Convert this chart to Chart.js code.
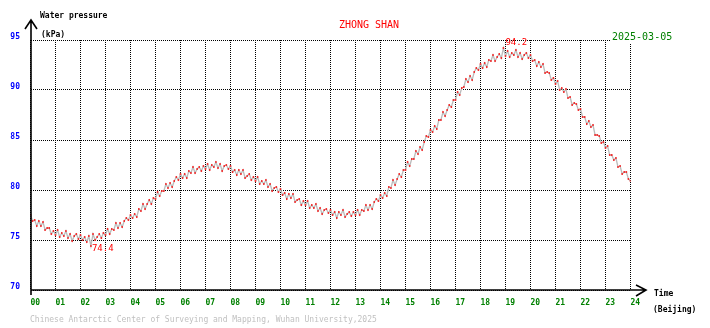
<!DOCTYPE html>
<html lang="en">
<head>
    <meta charset="UTF-8">
    <title>ZHONG SHAN Water pressure</title>
    <script src="https://cdn.jsdelivr.net/npm/chart.js"></script>
    <style>
        body {
            margin: 0;
            background: white;
        }
        canvas {
            display: block;
        }
    </style>
</head>
<body>
    <canvas id="pressureChart" width="710" height="328"></canvas>

    <script>
        // labels
        const hourLabels = ['00','01','02','03','04','05','06','07','08','09','10','11','12',
                            '13','14','15','16','17','18','19','20','21','22','23','24'];
        const yTicks = [70, 75, 80, 85, 90, 95];
        const station = 'ZHONG SHAN';
        const day = '2025-03-05';

        // water pressure (kPa), one value every 5 minutes, one row per hour
        const pressure = [
            77.5, 76.9, 77.0, 76.4, 76.9, 76.4, 76.8, 76.0, 76.2, 76.2, 75.6, 75.9,
            75.5, 76.0, 75.3, 75.7, 75.4, 75.9, 75.2, 75.6, 74.9, 75.4, 75.6, 75.1,
            75.5, 75.0, 75.3, 74.8, 75.4, 74.4, 75.6, 75.0, 75.3, 75.6, 75.2, 75.7,
            75.5, 76.1, 75.6, 76.1, 76.0, 76.7, 76.2, 76.7, 76.3, 76.9, 77.2, 77.0,
            77.5, 77.2, 77.6, 77.3, 78.1, 77.9, 78.6, 78.1, 78.6, 79.0, 78.6, 79.2,
            79.1, 79.8, 79.4, 79.9, 79.9, 80.6, 80.2, 80.7, 80.3, 80.9, 81.3, 81.0,
            81.6, 81.2, 81.6, 81.2, 81.9, 81.7, 82.3, 81.7, 82.1, 82.3, 81.9, 82.4,
            82.1, 82.6, 82.0, 82.5, 82.3, 82.8, 82.2, 82.6, 81.9, 82.4, 82.5, 82.1,
            82.4, 81.8, 82.0, 81.5, 82.0, 81.6, 82.0, 81.2, 81.4, 81.6, 81.0, 81.3,
            80.9, 81.3, 80.6, 80.9, 80.6, 81.0, 80.3, 80.6, 79.9, 80.2, 80.3, 79.8,
            80.1, 79.5, 79.7, 79.1, 79.6, 79.2, 79.6, 78.8, 79.0, 79.1, 78.5, 78.9,
            78.5, 78.9, 78.2, 78.5, 78.2, 78.6, 77.9, 78.2, 77.6, 78.0, 78.1, 77.7,
            78.0, 77.5, 77.8, 77.2, 77.8, 77.5, 78.0, 77.3, 77.6, 77.8, 77.4, 77.8,
            77.5, 78.0, 77.5, 78.0, 77.9, 78.5, 78.0, 78.5, 78.1, 78.8, 79.1, 78.9,
            79.5, 79.2, 79.7, 79.4, 80.3, 80.2, 81.0, 80.5, 81.1, 81.6, 81.3, 82.0,
            82.0, 82.8, 82.4, 83.1, 83.1, 83.9, 83.6, 84.3, 84.0, 84.8, 85.4, 85.3,
            86.0, 85.8, 86.4, 86.1, 87.0, 87.0, 87.8, 87.4, 88.0, 88.5, 88.3, 89.0,
            89.0, 89.8, 89.5, 90.2, 90.3, 91.1, 90.8, 91.4, 91.0, 91.8, 92.2, 92.0,
            92.6, 92.2, 92.7, 92.3, 93.0, 92.9, 93.5, 92.9, 93.3, 93.6, 93.2, 94.2,
            93.4, 93.9, 93.3, 93.7, 93.5, 94.0, 93.3, 93.7, 93.1, 93.5, 93.7, 93.2,
            93.5, 92.9, 93.0, 92.4, 92.8, 92.3, 92.6, 91.7, 91.8, 91.7, 91.0, 91.2,
            90.6, 90.9, 90.0, 90.2, 89.8, 90.1, 89.2, 89.3, 88.5, 88.7, 88.6, 88.0,
            88.1, 87.3, 87.3, 86.6, 86.9, 86.3, 86.5, 85.5, 85.5, 85.4, 84.7, 84.8,
            84.2, 84.4, 83.5, 83.5, 83.0, 83.2, 82.3, 82.4, 81.6, 81.8, 81.8, 81.1,
            80.9
        ];

        const mono = '"DejaVu Sans Mono", monospace';

        // axes, arrows, tick labels, titles, min/max marks
        const decor = {
            id: 'decor',
            afterDraw(chart) {
                const ctx = chart.ctx;
                const xs = chart.scales.x;
                const ys = chart.scales.y;
                const a = chart.chartArea;
                const x0 = Math.round(a.left);
                const y0 = Math.round(a.bottom);

                ctx.save();
                ctx.strokeStyle = 'black';
                ctx.lineWidth = 1.6;
                ctx.beginPath();
                ctx.moveTo(x0, 20); ctx.lineTo(x0, y0 + 5);
                ctx.moveTo(x0 - 6, 29); ctx.lineTo(x0, 20); ctx.lineTo(x0 + 6, 29);
                ctx.moveTo(x0, y0); ctx.lineTo(646, y0);
                ctx.moveTo(636, y0 - 5); ctx.lineTo(646, y0); ctx.lineTo(636, y0 + 6);
                ctx.stroke();

                ctx.textBaseline = 'middle';

                // y tick labels
                ctx.font = 'bold 8px ' + mono;
                ctx.fillStyle = '#0000ff';
                ctx.textAlign = 'right';
                yTicks.forEach(v => ctx.fillText(String(v), 20, ys.getPixelForValue(v) - 3));

                // x tick labels
                ctx.fillStyle = '#008000';
                ctx.textAlign = 'left';
                hourLabels.forEach((t, i) => ctx.fillText(t, xs.getPixelForValue(i), 302.5));

                // axis titles
                ctx.fillStyle = 'black';
                ctx.fillText('Water pressure', 40, 16);
                ctx.fillText('(kPa)', 41, 34.5);
                ctx.fillText('Time', 654, 294);
                ctx.fillText('(Beijing)', 653, 310);

                // station and date
                ctx.font = '10px ' + mono;
                ctx.fillStyle = '#ff0000';
                ctx.textAlign = 'center';
                ctx.fillText(station, 369, 25);
                ctx.textAlign = 'left';
                const dw = ctx.measureText(day).width;
                ctx.fillStyle = 'white';
                ctx.fillRect(611, 32, dw + 2, 11);
                ctx.fillStyle = '#008000';
                ctx.fillText(day, 612, 37.5);

                // footer
                ctx.font = '8px ' + mono;
                ctx.fillStyle = '#c0c0c0';
                ctx.fillText('Chinese Antarctic Center of Surveying and Mapping, Wuhan University,2025', 30, 320);

                // min / max marks
                let iMin = 0, iMax = 0;
                pressure.forEach((v, i) => {
                    if (v < pressure[iMin]) iMin = i;
                    if (v > pressure[iMax]) iMax = i;
                });
                ctx.font = '9px ' + mono;
                ctx.fillStyle = '#ff0000';
                ctx.textAlign = 'left';
                ctx.fillText(pressure[iMax].toFixed(1), xs.getPixelForValue(iMax / 12) + 2, ys.getPixelForValue(pressure[iMax]) - 5);
                ctx.fillText(pressure[iMin].toFixed(1), xs.getPixelForValue(iMin / 12) + 1, ys.getPixelForValue(pressure[iMin]) + 3);
                ctx.restore();
            }
        };

        new Chart(document.getElementById('pressureChart').getContext('2d'), {
            type: 'line',
            data: {
                datasets: [{
                    data: pressure.map((v, i) => ({ x: i / 12, y: v })),
                    borderColor: '#bbbbbb',
                    borderWidth: 1.3,
                    tension: 0,
                    pointStyle: 'rect',
                    pointRadius: 1.1,
                    pointBorderWidth: 0,
                    pointBackgroundColor: '#ff0000'
                }]
            },
            options: {
                responsive: false,
                animation: false,
                layout: {
                    padding: { left: 30.5, right: 79.5, top: 40, bottom: 38 }
                },
                plugins: {
                    legend: { display: false },
                    tooltip: { enabled: false }
                },
                scales: {
                    x: {
                        type: 'linear',
                        min: 0,
                        max: 24,
                        ticks: { display: false, stepSize: 1 },
                        grid: { color: 'black', lineWidth: 1, drawTicks: false },
                        border: { display: false, dash: [1, 1] }
                    },
                    y: {
                        min: 70,
                        max: 95,
                        ticks: { display: false, stepSize: 5 },
                        grid: { color: 'black', lineWidth: 1, drawTicks: false },
                        border: { display: false, dash: [1, 1] }
                    }
                }
            },
            plugins: [decor]
        });
    </script>
</body>
</html>
